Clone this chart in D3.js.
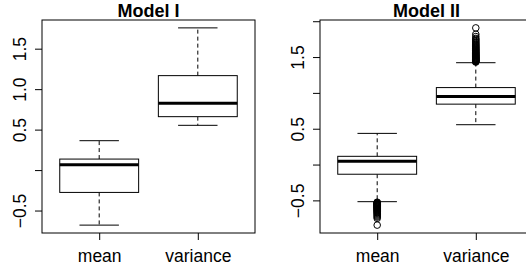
<!DOCTYPE html>
<html>
<head>
<meta charset="utf-8">
<title>Model I / Model II</title>
<script src="https://cdn.jsdelivr.net/npm/d3@7"></script>
<style>
  body { margin: 0; background: #fff; }
  svg text { font-family: "Liberation Sans", Arial, Helvetica, sans-serif; fill: #000; }
</style>
</head>
<body>
<svg id="chart" width="526" height="271"></svg>
<script>
// categories on the x axis
var categories = ["mean", "variance"];

// box stats: [lower whisker, Q1, median, Q3, upper whisker]
var modelIMean = [-0.68, -0.276, 0.066, 0.136, 0.363];
var modelIVariance = [0.553, 0.66, 0.825, 1.167, 1.757];
var modelIIMean = [-0.518, -0.135, 0.046, 0.115, 0.435];
var modelIIVariance = [0.556, 0.843, 0.949, 1.074, 1.421];

// outliers (Model I has none)
var modelIMeanOut = [];
var modelIVarianceOut = [];
var modelIIMeanOut = [-0.525, -0.531, -0.536, -0.540, -0.546, -0.551, -0.555, -0.561, -0.566, -0.570,
  -0.576, -0.581, -0.587, -0.592, -0.598, -0.603, -0.610, -0.616, -0.622, -0.629, -0.636, -0.644,
  -0.652, -0.661, -0.670, -0.680, -0.692, -0.705, -0.719, -0.733, -0.751, -0.845];
var modelIIVarianceOut = [1.430, 1.436, 1.441, 1.447, 1.452, 1.458, 1.463, 1.469, 1.475, 1.480,
  1.486, 1.492, 1.498, 1.505, 1.511, 1.518, 1.524, 1.531, 1.538, 1.546, 1.553, 1.561, 1.569, 1.577,
  1.586, 1.595, 1.604, 1.613, 1.623, 1.633, 1.643, 1.654, 1.665, 1.677, 1.689, 1.702, 1.716, 1.731,
  1.746, 1.760, 1.786, 1.818, 1.907];

// y ticks and their labels (empty label = tick without text, as in the original)
var modelITicks = [-0.5, 0, 0.5, 1.0, 1.5];
var modelITickLabels = ["\u22120.5", "", "0.5", "1.0", "1.5"];
var modelIITicks = [-0.5, 0, 0.5, 1.0, 1.5, 2.0];
var modelIITickLabels = ["\u22120.5", "", "0.5", "", "1.5", ""];

var svg = d3.select("#chart");

function drawPanel(p) {
    var g = svg.append("g");

    // y range like R: data range stretched by 4%
    var all = [];
    p.stats.forEach(function (s) { all.push(s[0], s[4]); });
    p.outliers.forEach(function (o) { all = all.concat(o); });
    var lo = d3.min(all), hi = d3.max(all), pad = (hi - lo) * 0.04;

    var x = d3.scaleLinear().domain([0.42, 2.58]).range([p.left, p.right]);
    var y = d3.scaleLinear().domain([lo - pad, hi + pad]).range([p.bottom, p.top]);

    // y axis
    var ya = g.append("g")
        .attr("transform", "translate(" + p.left + ",0)")
        .call(d3.axisLeft(y).tickValues(p.ticks).tickSize(7)
            .tickFormat(function (d, i) { return p.tickLabels[i]; }));
    ya.select(".domain").remove();
    ya.selectAll("line").attr("stroke", "#000");
    ya.selectAll("text")
        .attr("x", 0).attr("dy", 0)
        .attr("transform", "translate(-16,0) rotate(-90)")
        .attr("text-anchor", "middle")
        .style("font-size", "17.5px");

    // x axis
    var xa = g.append("g")
        .attr("transform", "translate(0," + p.bottom + ")")
        .call(d3.axisBottom(x).tickValues([1, 2]).tickSize(7)
            .tickFormat(function (d) { return categories[d - 1]; }));
    xa.select(".domain").remove();
    xa.selectAll("line").attr("stroke", "#000");
    xa.selectAll("text").attr("y", 28.7).attr("dy", 0).style("font-size", "17.5px");

    // boxes
    p.stats.forEach(function (s, i) {
        var cx = x(i + 1), hw = x(1.4) - x(1), cw = x(1.2) - x(1);
        g.append("line").attr("x1", cx).attr("x2", cx).attr("y1", y(s[3])).attr("y2", y(s[4]))
            .attr("stroke", "#000").attr("stroke-dasharray", "4,3");
        g.append("line").attr("x1", cx).attr("x2", cx).attr("y1", y(s[1])).attr("y2", y(s[0]))
            .attr("stroke", "#000").attr("stroke-dasharray", "4,3");
        [s[0], s[4]].forEach(function (v) {
            g.append("line").attr("x1", cx - cw).attr("x2", cx + cw).attr("y1", y(v)).attr("y2", y(v))
                .attr("stroke", "#000");
        });
        g.append("rect").attr("x", cx - hw).attr("width", 2 * hw)
            .attr("y", y(s[3])).attr("height", y(s[1]) - y(s[3]))
            .attr("fill", "#fff").attr("stroke", "#000");
        g.append("line").attr("x1", cx - hw).attr("x2", cx + hw).attr("y1", y(s[2])).attr("y2", y(s[2]))
            .attr("stroke", "#000").attr("stroke-width", 3);

        g.selectAll(null).data(p.outliers[i]).enter().append("circle")
            .attr("cx", cx).attr("cy", function (d) { return y(d); }).attr("r", 3.3)
            .attr("fill", "none").attr("stroke", "#000");
    });

    // plot frame
    g.append("rect").attr("x", p.left).attr("y", p.top)
        .attr("width", p.right - p.left).attr("height", p.bottom - p.top)
        .attr("fill", "none").attr("stroke", "#000");

    // title
    g.append("text").attr("x", (p.left + p.right) / 2).attr("y", 16.7)
        .attr("text-anchor", "middle").style("font-weight", "bold").style("font-size", "18px")
        .text(p.title);
}

drawPanel({
    title: "Model I", left: 42, right: 255, top: 20, bottom: 233,
    stats: [modelIMean, modelIVariance], outliers: [modelIMeanOut, modelIVarianceOut],
    ticks: modelITicks, tickLabels: modelITickLabels
});
drawPanel({
    title: "Model II", left: 320, right: 533, top: 20, bottom: 233,
    stats: [modelIIMean, modelIIVariance], outliers: [modelIIMeanOut, modelIIVarianceOut],
    ticks: modelIITicks, tickLabels: modelIITickLabels
});
</script>
</body>
</html>
